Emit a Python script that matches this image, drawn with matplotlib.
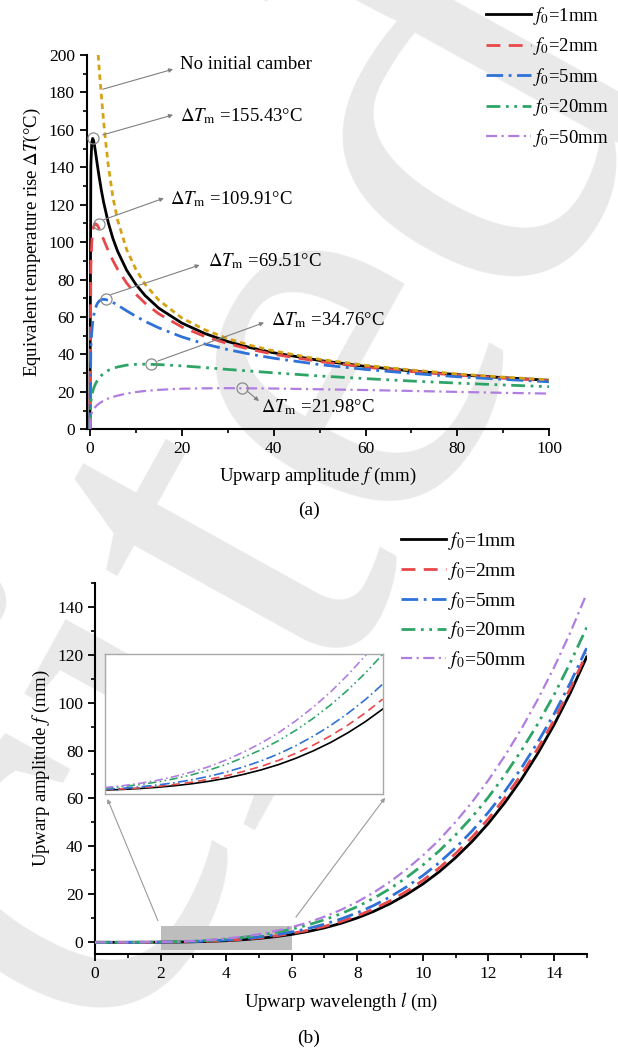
import numpy as np
import matplotlib
matplotlib.use('Agg')
import matplotlib.pyplot as plt
from matplotlib.ticker import MultipleLocator

plt.rcParams['font.family'] = ['Liberation Serif', 'DejaVu Serif']
plt.rcParams['mathtext.fontset'] = 'stix'

# ---- (a) equivalent temperature rise vs upwarp amplitude ----
f_amp = [0, 0.2, 0.4, 0.6, 0.8, 1, 1.2, 1.6, 2, 2.5, 3, 4, 5, 6, 8, 10, 12, 15,
         20, 25, 30, 35, 40, 50, 60, 70, 80, 90, 100]
dT_f1 = [0, 140.8, 153.2, 155.4, 154.3, 151.6, 148.4, 141.5, 135.0, 127.6, 121.1,
         110.4, 102.0, 95.3, 85.0, 77.4, 71.5, 64.7, 56.8, 51.2, 46.9, 43.6, 40.9,
         36.8, 33.6, 31.2, 29.2, 27.6, 26.2]
dT_f2 = [0, 86.7, 99.6, 105.5, 108.3, 109.6, 109.9, 109.1, 107.2, 104.3, 101.3,
         95.4, 90.2, 85.6, 78.1, 72.2, 67.4, 61.7, 54.7, 49.6, 45.8, 42.7, 40.1,
         36.2, 33.2, 30.9, 28.9, 27.3, 26.0]
dT_f5 = [0, 43.6, 52.0, 57.1, 60.5, 63.0, 64.8, 67.2, 68.5, 69.3, 69.5, 69.0,
         67.8, 66.4, 63.3, 60.4, 57.7, 54.2, 49.4, 45.6, 42.6, 40.1, 38.0, 34.6,
         32.0, 29.9, 28.1, 26.7, 25.4]
dT_f20 = [0, 14.7, 18.0, 20.1, 21.8, 23.1, 24.2, 26.0, 27.4, 28.8, 29.9, 31.5,
          32.6, 33.3, 34.3, 34.7, 34.8, 34.6, 33.9, 33.0, 32.0, 31.1, 30.2, 28.5,
          27.1, 25.8, 24.7, 23.7, 22.8]
dT_f50 = [0, 7.1, 8.7, 9.8, 10.7, 11.4, 12.0, 13.0, 13.8, 14.6, 15.3, 16.5,
          17.3, 18.0, 19.1, 19.9, 20.5, 21.1, 21.7, 21.9, 22.0, 21.9, 21.8, 21.4,
          21.0, 20.5, 20.0, 19.5, 19.1]
f_flat = [1.8, 2, 2.5, 3, 3.5, 4, 5, 6, 8, 10, 12, 15, 20, 25, 30, 35, 40, 50,
          60, 70, 80, 90, 100]
dT_flat = [200, 193, 178, 164, 152, 141, 124, 112, 96, 85.5, 77.5, 69, 59.5, 53.2,
           48.5, 44.8, 41.9, 37.4, 34.2, 31.7, 29.6, 27.9, 26.5]

peak_f = [0.6, 1.9, 3.4, 13.4, 33.0]
peak_T = [155.43, 109.91, 69.51, 34.76, 21.98]

# ---- (b) upwarp amplitude vs upwarp wavelength ----
l_wave = np.arange(0, 15.01, 0.5)
f_l1 = [0, 0.0002, 0.003, 0.015, 0.045, 0.108, 0.22, 0.40, 0.68, 1.07, 1.62, 2.35,
        3.30, 4.51, 6.03, 7.90, 10.16, 12.88, 16.11, 19.9, 24.3, 29.4, 35.3, 42.0,
        49.6, 58.2, 67.8, 78.6, 90.6, 104.0, 119.0]
f_l2 = [0, 0.0003, 0.004, 0.020, 0.057, 0.133, 0.27, 0.48, 0.80, 1.24, 1.85, 2.66,
        3.70, 5.01, 6.65, 8.64, 11.03, 13.90, 17.27, 21.2, 25.8, 31.0, 37.0, 43.8,
        51.5, 60.2, 69.8, 80.6, 92.5, 105.8, 120.5]
f_l5 = [0, 0.0005, 0.006, 0.028, 0.078, 0.176, 0.34, 0.60, 0.98, 1.50, 2.21, 3.13,
        4.30, 5.76, 7.56, 9.73, 12.30, 15.35, 18.93, 23.1, 27.8, 33.2, 39.4, 46.4,
        54.2, 62.9, 72.5, 83.3, 95.1, 108.2, 122.7]
f_l20 = [0, 0.001, 0.011, 0.047, 0.123, 0.267, 0.50, 0.85, 1.36, 2.03, 2.93, 4.07,
         5.50, 7.25, 9.38, 11.91, 14.87, 18.35, 22.38, 27.0, 32.2, 38.1, 44.8, 52.2,
         60.5, 69.7, 79.8, 90.9, 103.1, 116.6, 131.3]
f_l50 = [0, 0.001, 0.014, 0.056, 0.147, 0.316, 0.59, 0.99, 1.58, 2.35, 3.38, 4.68,
         6.30, 8.28, 10.68, 13.52, 16.87, 20.75, 25.24, 30.4, 36.2, 42.7, 50.2, 58.4,
         67.6, 77.7, 88.8, 101.1, 114.5, 129.2, 145.4]

# zoomed part (inset), finer steps
l_zoom = [2, 2.25, 2.5, 2.75, 3, 3.25, 3.5, 3.75, 4, 4.25, 4.5, 4.75, 5, 5.25,
          5.5, 5.75, 6]
z_l1 = [0.045, 0.071, 0.108, 0.156, 0.22, 0.300, 0.40, 0.525, 0.68, 0.857, 1.07,
        1.324, 1.62, 1.958, 2.35, 2.794, 3.30]
z_l2 = [0.057, 0.089, 0.133, 0.191, 0.27, 0.360, 0.48, 0.620, 0.80, 0.998, 1.24,
        1.523, 1.85, 2.227, 2.66, 3.147, 3.70]
z_l5 = [0.078, 0.119, 0.176, 0.248, 0.34, 0.457, 0.60, 0.771, 0.98, 1.219, 1.50,
        1.831, 2.21, 2.640, 3.13, 3.680, 4.30]
z_l20 = [0.123, 0.185, 0.267, 0.369, 0.50, 0.659, 0.85, 1.081, 1.36, 1.668, 2.03,
         2.451, 2.93, 3.466, 4.07, 4.747, 5.50]
z_l50 = [0.147, 0.219, 0.316, 0.435, 0.59, 0.772, 0.99, 1.260, 1.58, 1.935, 2.35,
         2.832, 3.38, 3.988, 4.68, 5.446, 6.30]

labels = [r'$f_0$=1mm', r'$f_0$=2mm', r'$f_0$=5mm', r'$f_0$=20mm', r'$f_0$=50mm']
colors = ['#000000', '#e8484a', '#2e72d8', '#2ea567', '#b07ee0']
styles = ['-', (0, (5, 3)), (0, (6, 2, 1, 2)), (0, (5, 2, 1, 2, 1, 2)), (0, (5, 2, 1, 2))]
widths = [2.0, 2.0, 2.0, 2.0, 1.6]

fig = plt.figure(figsize=(6.18, 10.51), dpi=100)

# watermark, behind everything
fig.text(0.43, 0.54, 'cited', rotation=61, fontsize=420, color='#e9e9e9',
         ha='center', va='center', zorder=-5)


def style_axes(ax):
    ax.set_facecolor('none')
    for s in ['top', 'right']:
        ax.spines[s].set_visible(False)
    for s in ['left', 'bottom']:
        ax.spines[s].set_linewidth(1.5)
    ax.tick_params(which='major', direction='out', length=5, width=1.3, labelsize=12.5)
    ax.tick_params(which='minor', direction='out', length=3, width=1.2)


# ---------------- panel (a) ----------------
ax1 = fig.add_axes([0.1403, 0.5915, 0.7485, 0.3562])
style_axes(ax1)
series_a = [dT_f1, dT_f2, dT_f5, dT_f20, dT_f50]
handles = []
for k in range(5):
    h, = ax1.plot(f_amp, series_a[k], color=colors[k], linestyle=styles[k],
                  linewidth=widths[k], zorder=3)
    handles.append(h)
ax1.plot(f_flat, dT_flat, color='#d6a215', linestyle=(0, (2, 1.5)), linewidth=2, zorder=4)
ax1.plot(peak_f, peak_T, 'o', mfc='none', mec='#8a8a8a', ms=8, mew=0.9, zorder=5)

ax1.set_xlim(-0.7, 100)
ax1.set_ylim(0, 200)
ax1.xaxis.set_major_locator(MultipleLocator(20))
ax1.xaxis.set_minor_locator(MultipleLocator(10))
ax1.yaxis.set_major_locator(MultipleLocator(20))
ax1.yaxis.set_minor_locator(MultipleLocator(10))
ax1.set_xlabel(r'Upwarp amplitude $f$ (mm)', fontsize=13.5, labelpad=6)
ax1.set_ylabel(r'Equivalent temperature rise $\Delta T$(°C)', fontsize=13.5, labelpad=4)

arrow_kw = dict(arrowstyle='-|>', color='#808080', lw=0.8, mutation_scale=6,
                shrinkA=0, shrinkB=0)
notes = [
    ('No initial camber', (2.8, 181.7), (18.1, 192.4), (19.6, 194.7)),
    (r'$\mathit{\Delta T}_{\rm m}$ =155.43°C', (2.8, 157.3), (18.1, 168.0), (19.6, 167.4)),
    (r'$\mathit{\Delta T}_{\rm m}$ =109.91°C', (3.0, 112.0), (16.1, 123.5), (17.4, 123.0)),
    (r'$\mathit{\Delta T}_{\rm m}$ =69.51°C', (4.6, 72.0), (23.9, 87.8), (25.6, 89.6)),
    (r'$\mathit{\Delta T}_{\rm m}$ =34.76°C', (14.8, 36.5), (37.9, 57.0), (39.4, 58.4)),
    (r'$\mathit{\Delta T}_{\rm m}$ =21.98°C', (34.2, 20.5), (36.8, 15.1), (37.2, 11.8)),
]
for txt, start, end, pos in notes:
    ax1.annotate('', xy=end, xytext=start, arrowprops=arrow_kw, zorder=6)
    ax1.text(pos[0], pos[1], txt, fontsize=13.5, ha='left', va='center', zorder=6)

fig.legend(handles=handles, labels=labels, loc='upper left',
           bbox_to_anchor=(486 / 618, 1 - 5 / 1051), frameon=False, fontsize=13.5,
           handlelength=2.4, handletextpad=0.1, labelspacing=0.45, borderpad=0,
           borderaxespad=0)
fig.text(0.5, 1 - 510 / 1051, '(a)', fontsize=14, ha='center', va='center')

# ---------------- panel (b) ----------------
ax2 = fig.add_axes([0.1537, 0.0920, 0.7956, 0.3536])
style_axes(ax2)
series_b = [f_l1, f_l2, f_l5, f_l20, f_l50]
handles_b = []
for k in range(5):
    h, = ax2.plot(l_wave, series_b[k], color=colors[k], linestyle=styles[k],
                  linewidth=widths[k], zorder=3)
    handles_b.append(h)
ax2.add_patch(plt.Rectangle((2, -3), 4, 10, facecolor='#bdbdbd', edgecolor='none', zorder=2))
ax2.set_xlim(0, 15)
ax2.set_ylim(-5, 150)
ax2.xaxis.set_major_locator(MultipleLocator(2))
ax2.xaxis.set_minor_locator(MultipleLocator(1))
ax2.yaxis.set_major_locator(MultipleLocator(20))
ax2.yaxis.set_minor_locator(MultipleLocator(10))
ax2.set_xlabel(r'Upwarp wavelength $l$ (m)', fontsize=13.5, labelpad=6)
ax2.set_ylabel(r'Upwarp amplitude $f$ (mm)', fontsize=13.5, labelpad=4)

zoom_kw = dict(arrowstyle='-|>', color='#9a9a9a', lw=0.8, mutation_scale=6,
               shrinkA=0, shrinkB=0)
ax2.annotate('', xy=(0.38, 59.8), xytext=(1.92, 9.0), arrowprops=zoom_kw, zorder=6)
ax2.annotate('', xy=(8.85, 60.3), xytext=(6.13, 10.5), arrowprops=zoom_kw, zorder=6)

ins = fig.add_axes([105 / 618, 1 - 793.7 / 1051, 277.7 / 618, 139.4 / 1051])
ins.set_facecolor('white')
series_z = [z_l1, z_l2, z_l5, z_l20, z_l50]
for k in range(5):
    ins.plot(l_zoom, series_z[k], color=colors[k], linestyle=styles[k], linewidth=1.2)
ins.set_xlim(2, 6)
ins.set_ylim(-0.1, 5.5)
ins.set_xticks([])
ins.set_yticks([])
for s in ins.spines.values():
    s.set_color('#a8a8a8')
    s.set_linewidth(1.0)

fig.legend(handles=handles_b, labels=labels, loc='upper left',
           bbox_to_anchor=(401 / 618, 1 - 530 / 1051), frameon=False, fontsize=14,
           handlelength=2.3, handletextpad=0.1, labelspacing=0.4, borderpad=0,
           borderaxespad=0)
fig.text(0.5, 1 - 1038 / 1051, '(b)', fontsize=14, ha='center', va='center')

fig.savefig('out.png', dpi=100)
